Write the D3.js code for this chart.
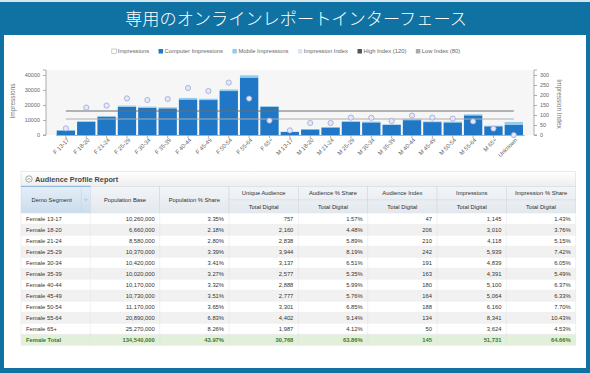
<!DOCTYPE html>
<html lang="ja">
<head>
<meta charset="utf-8">
<title>Audience Profile Report</title>
<script src="https://d3js.org/d3.v7.min.js"></script>
<style>
body { margin: 0; background: #fff; }
svg { display: block; font-family: "Liberation Sans", Arial, sans-serif; }
</style>
</head>
<body>
<svg id="chart" width="590" height="373"></svg>
<script>
// ---------- chart data ----------
var segments = ["F 13-17", "F 18-20", "F 21-24", "F 25-29", "F 30-34", "F 35-39", "F 40-44", "F 45-49",
	"F 50-54", "F 55-64", "F 65+", "M 13-17", "M 18-20", "M 21-24", "M 25-29", "M 30-34", "M 35-39",
	"M 40-44", "M 45-49", "M 50-54", "M 55-64", "M 65+", "Unknown"];
var computerImp = [3000, 8800, 12000, 18800, 18200, 17800, 23700, 23300, 29300, 38300, 18700,
	2000, 3700, 5000, 8800, 8400, 6700, 9900, 8600, 8400, 13100, 5800, 6900];
var mobileImp = [300, 500, 700, 800, 700, 700, 1000, 900, 1100, 1500, 600,
	200, 300, 300, 500, 500, 400, 600, 500, 500, 700, 400, 1800];
var impIndex = [33, 137, 147, 183, 175, 180, 235, 220, 262, 182, 72,
	23, 60, 60, 87, 86, 70, 97, 87, 82, 68, 32, 0];
var highIndex = 120;
var lowIndex = 80;
var leftTicks = [0, 10000, 20000, 30000, 40000];
var rightTicks = [0, 50, 100, 150, 200, 250, 300];
var legendLabels = ["Impressions", "Computer Impressions", "Mobile Impressions", "Impression Index", "High Index (120)", "Low Index (80)"];
var legendColors = ["#ffffff", "#1f77c6", "#93cdee", "#dfe3f5", "#555555", "#aaaaaa"];

// ---------- table data ----------
var rowLabels = ["Female 13-17", "Female 18-20", "Female 21-24", "Female 25-29", "Female 30-34", "Female 35-39",
	"Female 40-44", "Female 45-49", "Female 50-54", "Female 55-64", "Female 65+", "Female Total"];
var popBase = [10260000, 6660000, 8580000, 10370000, 10420000, 10020000, 10170000, 10730000, 11170000, 20890000, 25270000, 134540000];
var popShare = [3.35, 2.18, 2.80, 3.39, 3.41, 3.27, 3.32, 3.51, 3.65, 6.83, 8.26, 43.97];
var uniqueAud = [757, 2160, 2838, 3944, 3137, 2577, 2888, 2777, 3301, 4402, 1987, 30768];
var audShare = [1.57, 4.48, 5.89, 8.19, 6.51, 5.35, 5.99, 5.76, 6.85, 9.14, 4.12, 63.86];
var audIndex = [47, 206, 210, 242, 191, 163, 180, 164, 188, 134, 50, 145];
var impressions = [1145, 3010, 4118, 5939, 4839, 4391, 5100, 5064, 6160, 8341, 3624, 51731];
var impShare = [1.43, 3.76, 5.15, 7.42, 6.05, 5.49, 6.37, 6.33, 7.70, 10.43, 4.53, 64.66];
var colHeaders = ["Demo Segment", "Population Base", "Population % Share", "Unique Audience",
	"Audience % Share", "Audience Index", "Impressions", "Impression % Share"];
var subHeader = "Total Digital";

var svg = d3.select("#chart");

// ---------- frame ----------
svg.append("rect").attr("width", 590).attr("height", 373).attr("fill", "#0f72a2");
svg.append("rect").attr("width", 590).attr("height", 2).attr("fill", "#d5e6ef");
svg.append("rect").attr("x", 4).attr("y", 35).attr("width", 582).attr("height", 333).attr("fill", "#fff");
svg.append("text")
	.attr("x", 296).attr("y", 25)
	.attr("text-anchor", "middle")
	.style("font-family", "'Noto Sans CJK JP', sans-serif")
	.style("font-size", "17.2px")
	.style("font-weight", 300)
	.attr("fill", "#fff")
	.text("専用のオンラインレポートインターフェース");

// ---------- legend ----------
var legend = svg.append("g").style("font-size", "5.8px").attr("fill", "#666");
var lx = 0;
var items = legend.selectAll("g").data(legendLabels).enter().append("g");
items.each(function (d, i) {
	var g = d3.select(this);
	g.append("rect").attr("x", 0).attr("y", -4).attr("width", 4.5).attr("height", 4.5)
		.attr("fill", legendColors[i]).attr("stroke", i == 0 ? "#aaa" : "none").attr("stroke-width", 0.6);
	var t = g.append("text").attr("x", 6).attr("y", 0.3).text(d);
	g.attr("transform", "translate(" + lx + ",0)");
	lx += 6 + t.node().getComputedTextLength() + 9.5;
});
legend.attr("transform", "translate(" + (286 - (lx - 9.5) / 2) + ",53)");

// ---------- chart ----------
var x = d3.scaleBand().domain(segments).range([55.7, 524]).paddingInner(0.1).paddingOuter(0.05);
var yL = d3.scaleLinear().domain([0, 43333]).range([135, 70]);
var yR = d3.scaleLinear().domain([0, 325]).range([135, 70]);

svg.append("rect").attr("x", 46).attr("y", 70).attr("width", 488).attr("height", 65).attr("fill", "#f6f6f6");

var axL = svg.append("g").attr("transform", "translate(46,0)")
	.call(d3.axisLeft(yL).tickValues(leftTicks).tickSize(3).tickFormat(d3.format("d")));
var axR = svg.append("g").attr("transform", "translate(534,0)")
	.call(d3.axisRight(yR).tickValues(rightTicks).tickSize(3));
var axB = svg.append("g").attr("transform", "translate(0,135)")
	.call(d3.axisBottom(x).tickSize(3).tickSizeOuter(0));
[axL, axR, axB].forEach(function (a) {
	a.selectAll("path, line").attr("stroke", "#9a9a9a").attr("stroke-width", 0.8);
	a.selectAll("text").attr("fill", "#666").style("font-size", "5.5px").style("font-family", "'Liberation Sans', Arial, sans-serif");
});
axR.select("path.domain").attr("d", "M3,70H0V135H3");
axL.select("path.domain").attr("d", "M-3,70H0V135H-3");
axB.selectAll("text")
	.style("font-size", "5.8px")
	.attr("text-anchor", "end")
	.attr("transform", "rotate(-45)")
	.attr("dx", "-0.2em").attr("dy", "0.6em")
	.attr("y", 3).attr("x", 0);

svg.append("text").attr("transform", "translate(15,101) rotate(-90)")
	.attr("text-anchor", "middle").attr("fill", "#777").style("font-size", "6.5px").text("Impressions");
svg.append("text").attr("transform", "translate(557,104) rotate(90)")
	.attr("text-anchor", "middle").attr("fill", "#777").style("font-size", "6.5px").text("Impression Index");

// bars
svg.append("g").selectAll("rect").data(segments).enter().append("rect")
	.attr("x", function (d) { return x(d); })
	.attr("width", x.bandwidth())
	.attr("y", function (d, i) { return yL(computerImp[i]); })
	.attr("height", function (d, i) { return 135 - yL(computerImp[i]); })
	.attr("fill", "#1f77c6");
svg.append("g").selectAll("rect").data(segments).enter().append("rect")
	.attr("x", function (d) { return x(d); })
	.attr("width", x.bandwidth())
	.attr("y", function (d, i) { return yL(computerImp[i] + mobileImp[i]); })
	.attr("height", function (d, i) { return yL(computerImp[i]) - yL(computerImp[i] + mobileImp[i]); })
	.attr("fill", "#93cdee");

// index reference lines
var x0 = x(segments[0]) + x.bandwidth() / 2;
var x1 = x(segments[segments.length - 1]) + x.bandwidth() / 2;
svg.append("line").attr("x1", x0).attr("x2", x1).attr("y1", yR(highIndex)).attr("y2", yR(highIndex))
	.attr("stroke", "#6f6f6f").attr("stroke-width", 1.2);
svg.append("line").attr("x1", x0).attr("x2", x1).attr("y1", yR(lowIndex)).attr("y2", yR(lowIndex))
	.attr("stroke", "#adadad").attr("stroke-width", 1.2);

// index dots
svg.append("g").selectAll("circle").data(segments).enter().append("circle")
	.attr("cx", function (d) { return x(d) + x.bandwidth() / 2; })
	.attr("cy", function (d, i) { return yR(impIndex[i]); })
	.attr("r", 2.6)
	.attr("fill", "#e4e8f8")
	.attr("stroke", "#9aa6d8")
	.attr("stroke-width", 0.8);

// ---------- table ----------
var colKeys = d3.range(colHeaders.length);
var cx = d3.scaleBand().domain(colKeys).range([21, 575.7]);
var ry = d3.scaleBand().domain(rowLabels).range([213.3, 345.3]);
var cw = cx.bandwidth();

var defs = svg.append("defs");
var g1 = defs.append("linearGradient").attr("id", "hdr").attr("x1", 0).attr("y1", 0).attr("x2", 0).attr("y2", 1);
g1.append("stop").attr("offset", 0).attr("stop-color", "#ffffff");
g1.append("stop").attr("offset", 1).attr("stop-color", "#eeeeee");
var g2 = defs.append("linearGradient").attr("id", "colhdr").attr("x1", 0).attr("y1", 0).attr("x2", 0).attr("y2", 1);
g2.append("stop").attr("offset", 0).attr("stop-color", "#f2f5f8");
g2.append("stop").attr("offset", 1).attr("stop-color", "#e3e8ee");
var g3 = defs.append("linearGradient").attr("id", "selhdr").attr("x1", 0).attr("y1", 0).attr("x2", 0).attr("y2", 1);
g3.append("stop").attr("offset", 0).attr("stop-color", "#e4eef8");
g3.append("stop").attr("offset", 1).attr("stop-color", "#cbdcec");

var tbl = svg.append("g");
// panel title bar
tbl.append("rect").attr("x", 21).attr("y", 171.7).attr("width", 554.7).attr("height", 14.6)
	.attr("fill", "url(#hdr)").attr("stroke", "#dcdcdc").attr("stroke-width", 0.6);
tbl.append("circle").attr("cx", 29).attr("cy", 179).attr("r", 3.2).attr("fill", "none").attr("stroke", "#888").attr("stroke-width", 0.7);
tbl.append("path").attr("d", "M27.4,179.8L29,178.2L30.6,179.8").attr("fill", "none").attr("stroke", "#888").attr("stroke-width", 0.7);
tbl.append("text").attr("x", 35).attr("y", 181.6).attr("fill", "#4a4a4a")
	.style("font-size", "7.3px").style("font-weight", "bold").text("Audience Profile Report");

// column headers
var hTop = 186.3, hMid = 199.8, hBot = 213.3;
tbl.selectAll("rect.ch").data(colKeys).enter().append("rect").attr("class", "ch")
	.attr("x", function (d) { return cx(d); }).attr("y", hTop)
	.attr("width", cw).attr("height", hBot - hTop)
	.attr("fill", function (d) { return d == 0 ? "url(#selhdr)" : "url(#colhdr)"; })
	.attr("stroke", "#d3d9df").attr("stroke-width", 0.6);
tbl.append("line").attr("x1", cx(0)).attr("x2", cx(0) + cw).attr("y1", hTop).attr("y2", hTop)
	.attr("stroke", "#7fb2dd").attr("stroke-width", 1);
tbl.selectAll("line.sub").data(colKeys.slice(3)).enter().append("line").attr("class", "sub")
	.attr("x1", function (d) { return cx(d); }).attr("x2", function (d) { return cx(d) + cw; })
	.attr("y1", hMid).attr("y2", hMid).attr("stroke", "#d3d9df").attr("stroke-width", 0.6);
tbl.selectAll("text.ch").data(colKeys).enter().append("text").attr("class", "ch")
	.attr("x", function (d) { return cx(d) + cw / 2 - (d == 0 ? 4 : 0); })
	.attr("y", function (d) { return d < 3 ? (hTop + hBot) / 2 + 2 : (hTop + hMid) / 2 + 2; })
	.attr("text-anchor", "middle").attr("fill", "#2e2e2e")
	.style("font-size", "5.8px")
	.text(function (d) { return colHeaders[d]; });
tbl.selectAll("text.sub").data(colKeys.slice(3)).enter().append("text").attr("class", "sub")
	.attr("x", function (d) { return cx(d) + cw / 2; })
	.attr("y", (hMid + hBot) / 2 + 2)
	.attr("text-anchor", "middle").attr("fill", "#2e2e2e")
	.style("font-size", "5.8px")
	.text(subHeader);
// sort arrow in Demo Segment header
tbl.append("line").attr("x1", cx(0) + cw - 9).attr("x2", cx(0) + cw - 9).attr("y1", hTop + 2).attr("y2", hBot - 2)
	.attr("stroke", "#c6d6e6").attr("stroke-width", 0.6);
tbl.append("path").attr("d", "M" + (cx(0) + cw - 6) + ",198.8l1.6,1.6l1.6,-1.6")
	.attr("fill", "none").attr("stroke", "#8aa0b8").attr("stroke-width", 0.6);

// body rows
var fmtInt = d3.format(",");
var fmtPct = function (v) { return d3.format(".2f")(v) + "%"; };
var cols = [null, popBase, popShare, uniqueAud, audShare, audIndex, impressions, impShare];
var fmts = [null, fmtInt, fmtPct, fmtInt, fmtPct, fmtInt, fmtInt, fmtPct];
var lastRow = rowLabels.length - 1;

tbl.selectAll("rect.row").data(rowLabels).enter().append("rect").attr("class", "row")
	.attr("x", 21).attr("y", function (d) { return ry(d); })
	.attr("width", 554.7).attr("height", ry.bandwidth())
	.attr("fill", function (d, i) { return i == lastRow ? "#e2efda" : (i % 2 ? "#f1f1f1" : "#ffffff"); });
tbl.selectAll("line.rowsep").data(rowLabels).enter().append("line").attr("class", "rowsep")
	.attr("x1", 21).attr("x2", 575.7)
	.attr("y1", function (d) { return ry(d) + ry.bandwidth(); })
	.attr("y2", function (d) { return ry(d) + ry.bandwidth(); })
	.attr("stroke", "#e6e6e6").attr("stroke-width", 0.5);
tbl.selectAll("line.colsep").data(d3.range(colKeys.length + 1)).enter().append("line").attr("class", "colsep")
	.attr("x1", function (d) { return d < colKeys.length ? cx(d) : cx(d - 1) + cw; })
	.attr("x2", function (d) { return d < colKeys.length ? cx(d) : cx(d - 1) + cw; })
	.attr("y1", hBot).attr("y2", ry(rowLabels[lastRow]) + ry.bandwidth())
	.attr("stroke", "#e2e2e2").attr("stroke-width", 0.5);

rowLabels.forEach(function (label, i) {
	var yy = ry(label) + ry.bandwidth() / 2 + 2;
	var isTotal = i == lastRow;
	var color = isTotal ? "#3d7a25" : "#333";
	var weight = isTotal ? "bold" : "normal";
	tbl.append("text").attr("x", cx(0) + 5).attr("y", yy).attr("fill", color)
		.style("font-size", "5.8px").style("font-weight", weight).text(label);
	for (var c = 1; c < cols.length; c++) {
		tbl.append("text").attr("x", cx(c) + cw - 5).attr("y", yy).attr("text-anchor", "end")
			.attr("fill", color).style("font-size", "5.8px").style("font-weight", weight)
			.text(fmts[c](cols[c][i]));
	}
});
</script>
</body>
</html>
